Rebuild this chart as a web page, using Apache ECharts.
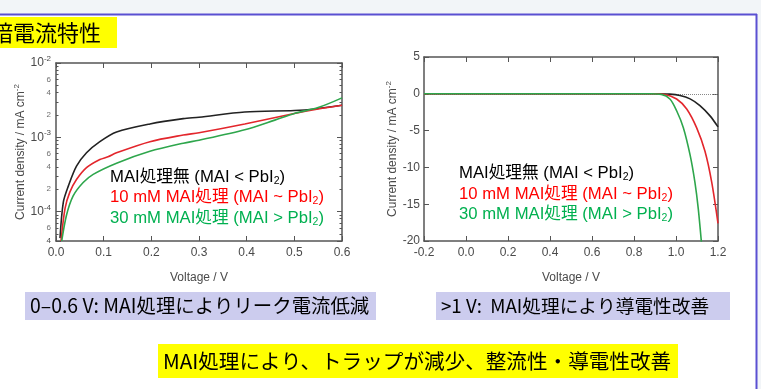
<!DOCTYPE html>
<html>
<head>
<meta charset="utf-8">
<script src="https://cdn.jsdelivr.net/npm/echarts@6/dist/echarts.min.js"></script>
<style>
  html, body { margin: 0; padding: 0; background: #fff; }
  #c { width: 761px; height: 389px; }
</style>
</head>
<body>
<div id="c"></div>
<script>
// ---- Dark current (semi-log), voltage in V, current density in mA cm^-2 ----
const darkV_none = [0.0084, 0.0153, 0.026, 0.043, 0.064, 0.092, 0.127, 0.197, 0.267, 0.30, 0.396, 0.50, 0.543, 0.60];
const darkJ_none = [4.37e-5, 1.33e-4, 2.21e-4, 4.07e-4, 6.17e-4, 8.71e-4, 1.175e-3, 1.51e-3, 1.78e-3, 1.86e-3, 2.19e-3, 2.29e-3, 2.40e-3, 2.69e-3];

const darkV_10 = [0.0105, 0.019, 0.029, 0.043, 0.064, 0.092, 0.109, 0.127, 0.197, 0.267, 0.30, 0.396, 0.50, 0.55, 0.60];
const darkJ_10 = [4.0e-5, 1.10e-4, 1.82e-4, 2.69e-4, 3.89e-4, 5.01e-4, 5.45e-4, 6.17e-4, 8.71e-4, 1.07e-3, 1.15e-3, 1.51e-3, 2.09e-3, 2.40e-3, 2.69e-3];

const darkV_30 = [0.012, 0.022, 0.036, 0.057, 0.078, 0.127, 0.197, 0.267, 0.30, 0.396, 0.459, 0.50, 0.55, 0.60];
const darkJ_30 = [4.0e-5, 8.9e-5, 1.62e-4, 2.45e-4, 3.16e-4, 4.47e-4, 6.46e-4, 8.32e-4, 9.12e-4, 1.26e-3, 1.70e-3, 2.09e-3, 2.51e-3, 3.39e-3];

// ---- J–V (linear), voltage in V, current density in mA cm^-2 ----
const jvV_none = [-0.2, 0.9, 0.97, 1.019, 1.067, 1.114, 1.162, 1.2];
const jvJ_none = [0, 0, -0.05, -0.23, -0.69, -1.6, -3.0, -4.5];

const jvV_10 = [-0.2, 0.9, 0.94, 1.003, 1.051, 1.098, 1.138, 1.17, 1.2];
const jvJ_10 = [0, 0, -0.05, -0.7, -2.07, -4.6, -7.8, -12.0, -17.6];

const jvV_30 = [-0.2, 0.88, 0.93, 0.971, 1.003, 1.035, 1.067, 1.09, 1.106, 1.122];
const jvJ_30 = [0, 0, -0.08, -0.7, -2.3, -4.6, -8.3, -12.0, -15.6, -20.5];

// ---- axis ticks ----
const darkLogMin = 4e-5, darkLogMax = 1e-2;
const darkMinorLabels = [6e-3, 4e-3, 2e-3, 6e-4, 4e-4, 2e-4, 6e-5];
const darkVTicks = { min: 0, max: 0.6, step: 0.1 };
const jvVTicks = { min: -0.2, max: 1.2, step: 0.2 };
const jvJTicks = { min: -20, max: 5, step: 5 };

// ---- labels ----
const seriesPrefixes = ['MAI処理無 (MAI < PbI', '10 mM MAI処理 (MAI ~ PbI', '30 mM MAI処理 (MAI > PbI'];
const lineColors = ['#222222', '#e3262c', '#2ea64c'];
const textColors = ['#000000', '#ff0000', '#00b050'];
const sectionTitle = '暗電流特性';
const noteLeft = '0–0.6 V: MAI処理によりリーク電流低減';
const noteRight = '>1 V:  MAI処理により導電性改善';
const conclusion = 'MAI処理により、トラップが減少、整流性・導電性改善';

const LATIN = '"Liberation Sans", Arial, "Noto Sans CJK JP", sans-serif';
const JP = '"Noto Sans CJK JP", sans-serif';
const axisGray = '#555';

const zip = (xs, ys) => xs.map((x, i) => [x, ys[i]]);

function mantissaLabel(v) {
  const e = Math.floor(Math.log10(v) + 1e-9);
  const m = v / Math.pow(10, e);
  if (Math.abs(m - 1) < 1e-6) return '{b|10}{e|' + e + '}';
  return '{m|' + Math.round(m) + '}';
}

const tickStyle = { inside: true, length: 5, lineStyle: { color: axisGray, width: 1 } };
const lineStyleAxis = { show: true, onZero: false, lineStyle: { color: axisGray, width: 1.5 } };
const labelStyle = { color: '#4a4a4a', fontSize: 12, fontFamily: LATIN, margin: 6 };
const nameStyle = { color: '#4a4a4a', fontSize: 12, fontFamily: LATIN,
  rich: { e: { fontSize: 8, verticalAlign: 'top', padding: [0, 0, 8, 0], color: '#4a4a4a', fontFamily: LATIN } } };

function xAxisPair(grid, t) {
  return [
    { gridIndex: grid, type: 'value', position: 'bottom', min: t.min, max: t.max, interval: t.step,
      axisLine: lineStyleAxis, axisTick: tickStyle, splitLine: { show: false },
      axisLabel: Object.assign({ formatter: v => v.toFixed(1) }, labelStyle),
      name: 'Voltage / V', nameLocation: 'middle', nameGap: 31, nameTextStyle: nameStyle },
    { gridIndex: grid, type: 'value', position: 'top', min: t.min, max: t.max, interval: t.step,
      axisLine: lineStyleAxis, axisTick: tickStyle, splitLine: { show: false }, axisLabel: { show: false } }
  ];
}

const logRich = {
  b: { fontSize: 12, color: '#4a4a4a', fontFamily: LATIN },
  e: { fontSize: 8, color: '#4a4a4a', fontFamily: LATIN, verticalAlign: 'top', padding: [0, 0, 8, 0] },
  m: { fontSize: 8, color: '#4a4a4a', fontFamily: LATIN }
};

const curveStyle = (i) => ({ color: lineColors[i], width: 1.6 });

const option = {
  backgroundColor: '#ffffff',
  animation: false,
  grid: [
    { left: 56, top: 63, width: 286, height: 178 },
    { left: 424, top: 57, width: 294, height: 184 }
  ],
  xAxis: [].concat(xAxisPair(0, darkVTicks), xAxisPair(1, jvVTicks)),
  yAxis: [
    { gridIndex: 0, type: 'log', logBase: 10, min: darkLogMin, max: darkLogMax, position: 'left',
      axisLine: lineStyleAxis, axisTick: tickStyle,
      minorTick: { show: true, splitNumber: 9, length: 2.5, lineStyle: { color: axisGray } },
      splitLine: { show: false }, minorSplitLine: { show: false },
      axisLabel: { formatter: mantissaLabel, rich: logRich, margin: 5, showMinLabel: true, showMaxLabel: true },
      name: 'Current density / mA cm{e|-2}', nameLocation: 'middle', nameGap: 26, nameTextStyle: nameStyle },
    { gridIndex: 0, type: 'log', logBase: 10, min: darkLogMin, max: darkLogMax, position: 'right',
      axisLine: lineStyleAxis, axisTick: tickStyle,
      minorTick: { show: true, splitNumber: 9, length: 2.5, lineStyle: { color: axisGray } },
      splitLine: { show: false }, axisLabel: { show: false } },
    { gridIndex: 1, type: 'value', min: jvJTicks.min, max: jvJTicks.max, interval: jvJTicks.step, position: 'left',
      axisLine: lineStyleAxis, axisTick: tickStyle, splitLine: { show: false },
      axisLabel: Object.assign({}, labelStyle, { margin: 4 }),
      name: 'Current density / mA cm{e|-2}', nameLocation: 'middle', nameGap: 17, nameTextStyle: nameStyle },
    { gridIndex: 1, type: 'value', min: jvJTicks.min, max: jvJTicks.max, interval: jvJTicks.step, position: 'right',
      axisLine: lineStyleAxis, axisTick: tickStyle, splitLine: { show: false }, axisLabel: { show: false } }
  ],
  series: [
    // mantissa labels between decades on the log axis
    { type: 'scatter', xAxisIndex: 0, yAxisIndex: 0, silent: true, symbolSize: 0, clip: false,
      data: darkMinorLabels.map(v => [0, v]),
      label: { show: true, position: 'left', distance: 5, formatter: p => mantissaLabel(p.value[1]), rich: logRich } },
    // semi-log dark current curves
    { type: 'line', xAxisIndex: 0, yAxisIndex: 0, data: zip(darkV_none, darkJ_none), showSymbol: false,
      smooth: 0.3, lineStyle: curveStyle(0) },
    { type: 'line', xAxisIndex: 0, yAxisIndex: 0, data: zip(darkV_10, darkJ_10), showSymbol: false,
      smooth: 0.3, lineStyle: curveStyle(1) },
    { type: 'line', xAxisIndex: 0, yAxisIndex: 0, data: zip(darkV_30, darkJ_30), showSymbol: false,
      smooth: 0.3, lineStyle: curveStyle(2) },
    // linear J–V curves
    { type: 'line', xAxisIndex: 2, yAxisIndex: 2, data: zip(jvV_none, jvJ_none), showSymbol: false,
      smooth: 0.3, lineStyle: curveStyle(0),
      markLine: { silent: true, symbol: 'none', label: { show: false }, z: 1,
        lineStyle: { color: '#888', type: 'dotted', width: 1 }, data: [{ yAxis: 0 }] } },
    { type: 'line', xAxisIndex: 2, yAxisIndex: 2, data: zip(jvV_10, jvJ_10), showSymbol: false,
      smooth: 0.3, lineStyle: curveStyle(1) },
    { type: 'line', xAxisIndex: 2, yAxisIndex: 2, data: zip(jvV_30, jvJ_30), showSymbol: false,
      smooth: 0.3, lineStyle: curveStyle(2) }
  ],
  graphic: []
};

// page frame
const g = option.graphic;
g.push({ type: 'rect', z: 0, shape: { x: 0, y: 0, width: 761, height: 14 }, style: { fill: '#f2f5f8' } });
g.push({ type: 'rect', z: 0, shape: { x: 757, y: 0, width: 4, height: 389 }, style: { fill: '#f2f5f8' } });
g.push({ type: 'line', z: 1, shape: { x1: 0, y1: 14.5, x2: 757, y2: 14.5 }, style: { stroke: '#5a50d2', lineWidth: 2 } });
g.push({ type: 'line', z: 1, shape: { x1: 756.5, y1: 14, x2: 756.5, y2: 389 }, style: { stroke: '#5a50d2', lineWidth: 2 } });

// section title
g.push({ type: 'rect', z: 1, shape: { x: 0, y: 17, width: 117, height: 31 }, style: { fill: '#ffff00' } });
g.push({ type: 'text', z: 2, x: -9, y: 33, style: { text: sectionTitle, font: '22px ' + JP, fill: '#000', textVerticalAlign: 'middle' } });

// in-plot series labels
function addSeriesLabels(x0, ys) {
  seriesPrefixes.forEach((p, i) => {
    g.push({ type: 'text', z: 10, x: x0, y: ys[i], style: {
      text: '{a|' + p + '}{s|2}{a|)}', fill: textColors[i], textVerticalAlign: 'middle',
      rich: {
        a: { fontSize: 16.7, fontFamily: LATIN, fill: textColors[i], color: textColors[i], verticalAlign: 'middle' },
        s: { fontSize: 10.5, fontFamily: LATIN, fill: textColors[i], color: textColors[i], verticalAlign: 'bottom', padding: [8, 0, 0, 0] }
      } } });
  });
}
addSeriesLabels(110, [177, 197, 218]);
addSeriesLabels(459, [173, 194, 214]);

// notes under the plots
g.push({ type: 'rect', z: 1, shape: { x: 25, y: 292, width: 351, height: 28 }, style: { fill: '#ccccee' } });
g.push({ type: 'text', z: 2, x: 30, y: 306, style: { text: noteLeft, font: '19.4px ' + JP, fill: '#000', textVerticalAlign: 'middle' } });
g.push({ type: 'rect', z: 1, shape: { x: 436, y: 292, width: 294, height: 28 }, style: { fill: '#ccccee' } });
g.push({ type: 'text', z: 2, x: 441, y: 306, style: { text: noteRight, font: '18.7px ' + JP, fill: '#000', textVerticalAlign: 'middle' } });

// conclusion
g.push({ type: 'rect', z: 1, shape: { x: 158, y: 344, width: 520, height: 34 }, style: { fill: '#ffff00' } });
g.push({ type: 'text', z: 2, x: 163, y: 361, style: { text: conclusion, font: '20.6px ' + JP, fill: '#000', textVerticalAlign: 'middle' } });

const chart = echarts.init(document.getElementById('c'), null, { renderer: 'canvas' });
chart.setOption(option);
</script>
</body>
</html>
